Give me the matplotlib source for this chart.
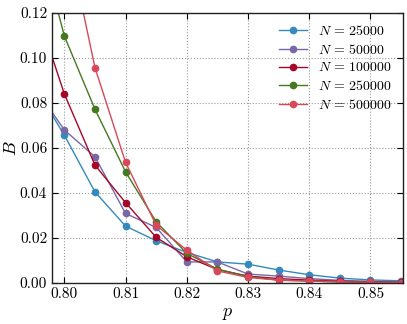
import matplotlib
matplotlib.use("Agg")
import matplotlib.pyplot as plt

plt.rcParams["font.family"] = "serif"
plt.rcParams["font.serif"] = ["cmr10", "DejaVu Serif"]
plt.rcParams["mathtext.fontset"] = "cm"
plt.rcParams["axes.formatter.use_mathtext"] = True

p = [0.795, 0.800, 0.805, 0.810, 0.815, 0.820, 0.825, 0.830,
     0.835, 0.840, 0.845, 0.850, 0.855]

B_25000 = [0.0880, 0.0656, 0.0404, 0.0252, 0.0187, 0.0135, 0.0093, 0.0083,
           0.0057, 0.0036, 0.0021, 0.0013, 0.0009]
B_50000 = [0.0874, 0.0679, 0.0560, 0.0308, 0.0246, 0.0093, 0.0093, 0.0039,
           0.0030, 0.0019, 0.0011, 0.0007, 0.0004]
B_100000 = [0.1250, 0.0839, 0.0523, 0.0356, 0.0202, 0.0116, 0.0059, 0.0030,
            0.0019, 0.0012, 0.0007, 0.0004, 0.0002]
B_250000 = [0.1620, 0.1096, 0.0771, 0.0493, 0.0271, 0.0131, 0.0061, 0.0028,
            0.0012, 0.0008, 0.0004, 0.0002, 0.0001]
B_500000 = [0.2300, 0.1600, 0.0956, 0.0535, 0.0256, 0.0145, 0.0053, 0.0024,
            0.0012, 0.0008, 0.0004, 0.0002, 0.0001]

series = [("25000", B_25000, "#348ABD"),
          ("50000", B_50000, "#7A68A6"),
          ("100000", B_100000, "#A60628"),
          ("250000", B_250000, "#467821"),
          ("500000", B_500000, "#D9475A")]

fig = plt.figure(figsize=(4.07, 3.24), dpi=100)
ax = fig.add_axes([0.128, 0.127, 0.862, 0.834])

for n, vals, c in series:
    ax.plot(p, vals, "-o", color=c, mec=c, mfc=c, ms=4.5, lw=1,
            label=r"$N\,=\,{}$".format(n))

ax.set_xlim(0.798, 0.8553)
ax.set_ylim(0, 0.12)
ax.set_xticks([0.80, 0.81, 0.82, 0.83, 0.84, 0.85])
ax.set_yticks([0.00, 0.02, 0.04, 0.06, 0.08, 0.10, 0.12])
ax.xaxis.set_major_formatter(matplotlib.ticker.FormatStrFormatter("%.2f"))
ax.yaxis.set_major_formatter(matplotlib.ticker.FormatStrFormatter("%.2f"))
ax.tick_params(direction="in", top=True, right=True, labelsize=11, length=4)
ax.grid(True, linestyle=":", color="#999999", lw=0.8)
for s in ax.spines.values():
    s.set_linewidth(1.0)
    s.set_color("#222222")

ax.set_xlabel("$p$", fontsize=13)
ax.set_ylabel("$B$", fontsize=13)
ax.yaxis.set_label_coords(-0.095, 0.5)
ax.xaxis.set_label_coords(0.5, -0.085)
ax.legend(loc="upper right", frameon=False, fontsize=10, numpoints=1,
          handlelength=2.0, handletextpad=0.8, labelspacing=0.35,
          borderaxespad=0.4)

fig.savefig("out.png", dpi=100)
